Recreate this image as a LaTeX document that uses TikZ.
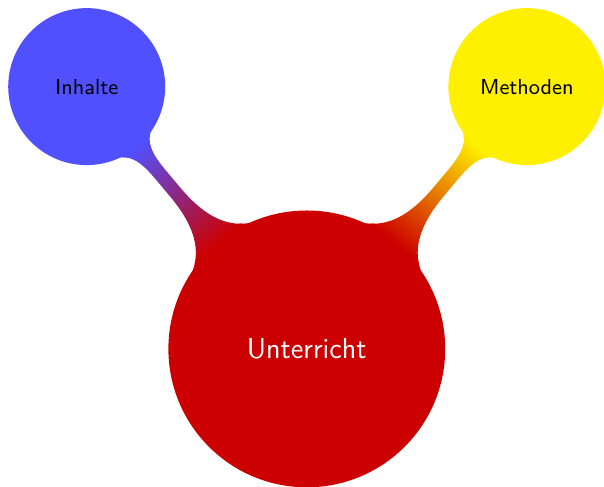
\documentclass[tikz,border=0pt]{standalone}
\usetikzlibrary{mindmap}
\renewcommand\familydefault{\sfdefault}
\definecolor{rootred}{RGB}{204,0,0}
\definecolor{inhblue}{RGB}{80,80,255}
\definecolor{methyellow}{RGB}{255,240,0}
\begin{document}
\begin{tikzpicture}[mindmap,
  every node/.style={concept},
  concept color=rootred, text=white]
  \useasboundingbox (-4.48,-2.015) rectangle (4.34,5.095);
  \node[concept] (root) {Unterricht}
    child[grow=130, concept color=inhblue, text=black] {node[concept] (inh) {Inhalte}}
    child[grow=50, concept color=methyellow, text=black] {node[concept] (meth) {Methoden}};
\end{tikzpicture}
\end{document}
